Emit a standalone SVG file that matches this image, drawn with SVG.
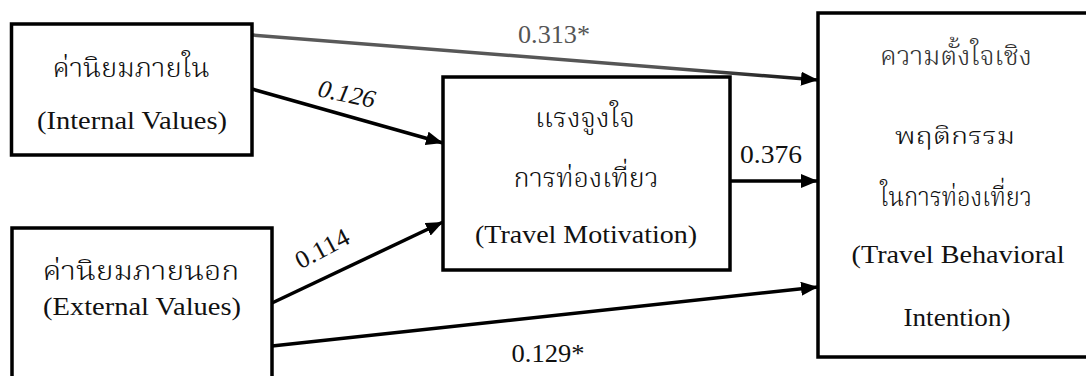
<svg xmlns="http://www.w3.org/2000/svg" width="1086" height="376" viewBox="0 0 1086 376">
  <style>
    .box { fill: #ffffff; stroke: #000000; stroke-width: 3.5; }
    .t { font-family: "Liberation Serif", "DejaVu Serif", serif; font-size: 25px; fill: #111111; text-anchor: middle; }
    .th { font-family: "Noto Serif Thai", "Noto Sans Thai Looped", "Noto Sans Thai", "Norasi", "Loma", "Garuda", "Liberation Serif", "DejaVu Serif", "Noto Sans", serif; font-size: 27px; font-weight: 300; fill: #111111; text-anchor: middle; }
    .lbl { font-family: "Liberation Serif", "DejaVu Serif", serif; font-size: 25px; fill: #111111; text-anchor: middle; }
    .edge { stroke: #000000; stroke-width: 3.5; fill: none; marker-end: url(#arr); }
  </style>
  <defs>
    <marker id="arr" markerUnits="userSpaceOnUse" markerWidth="18" markerHeight="14" refX="17" refY="7" orient="auto">
      <path d="M0,0 L17,7 L0,14 Z" fill="#000000"/>
    </marker>
    <linearGradient id="g313" x1="0" y1="0" x2="1" y2="0">
      <stop offset="0" stop-color="#5a5a5a"/>
      <stop offset="0.75" stop-color="#555555"/>
      <stop offset="1" stop-color="#111111"/>
    </linearGradient>
  </defs>
  <rect width="1086" height="376" fill="#ffffff"/>

  <g id="connectors">
    <line x1="252" y1="35" x2="818" y2="80" class="edge" style="stroke:url(#g313)"/>
    <line x1="252" y1="89" x2="443" y2="143" class="edge"/>
    <line x1="272" y1="303" x2="443" y2="222" class="edge"/>
    <line x1="730" y1="181" x2="818" y2="181" class="edge"/>
    <line x1="272" y1="346" x2="818" y2="287" class="edge"/>
    <text class="lbl" x="554" y="43" textLength="72" lengthAdjust="spacingAndGlyphs" style="fill:#555555">0.313*</text>
    <text class="lbl" x="0" y="0" font-style="italic" textLength="58" lengthAdjust="spacingAndGlyphs" transform="translate(345,102) rotate(12)">0.126</text>
    <text class="lbl" x="0" y="0" textLength="58" lengthAdjust="spacingAndGlyphs" transform="translate(326,256) rotate(-28)">0.114</text>
    <text class="lbl" x="771" y="163" textLength="62" lengthAdjust="spacingAndGlyphs">0.376</text>
    <text class="lbl" x="548" y="362" textLength="73" lengthAdjust="spacingAndGlyphs">0.129*</text>
  </g>

  <g id="internal">
    <rect class="box" x="11.5" y="24" width="240.5" height="131"/>
    <text class="th" x="131" y="77" textLength="157" lengthAdjust="spacingAndGlyphs">ค่านิยมภายใน</text>
    <text class="t" x="132" y="129" textLength="190" lengthAdjust="spacingAndGlyphs">(Internal Values)</text>
  </g>

  <g id="external">
    <rect class="box" x="12" y="228" width="260" height="160"/>
    <text class="th" x="141" y="280" textLength="197" lengthAdjust="spacingAndGlyphs">ค่านิยมภายนอก</text>
    <text class="t" x="142" y="315" textLength="198" lengthAdjust="spacingAndGlyphs">(External Values)</text>
  </g>

  <g id="motivation">
    <rect class="box" x="443" y="77" width="287" height="193"/>
    <text class="th" x="585" y="127" textLength="100" lengthAdjust="spacingAndGlyphs">แรงจูงใจ</text>
    <text class="th" x="586" y="187" textLength="145" lengthAdjust="spacingAndGlyphs">การท่องเที่ยว</text>
    <text class="t" x="586" y="243" textLength="222" lengthAdjust="spacingAndGlyphs">(Travel Motivation)</text>
  </g>

  <g id="intention">
    <rect class="box" x="818" y="13" width="280" height="344"/>
    <text class="th" x="956" y="65" textLength="152" lengthAdjust="spacingAndGlyphs" style="fill:#333333">ความตั้งใจเชิง</text>
    <text class="th" x="955" y="144" textLength="120" lengthAdjust="spacingAndGlyphs" style="font-size:23px">พฤติกรรม</text>
    <text class="th" x="956" y="206" textLength="152" lengthAdjust="spacingAndGlyphs">ในการท่องเที่ยว</text>
    <text class="t" x="958" y="263" textLength="213" lengthAdjust="spacingAndGlyphs">(Travel Behavioral</text>
    <text class="t" x="957" y="326" textLength="107" lengthAdjust="spacingAndGlyphs">Intention)</text>
  </g>
</svg>
